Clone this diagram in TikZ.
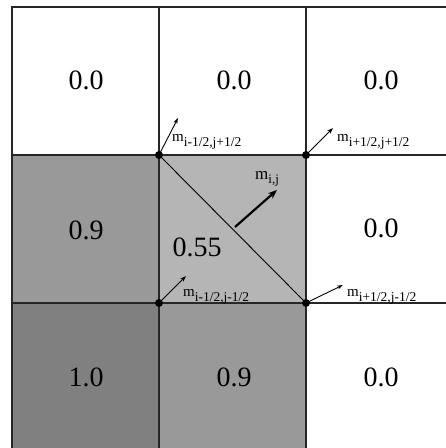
\documentclass[tikz,border=0pt]{standalone}
\usepackage{fontspec}
\setmainfont{Liberation Serif}
\usetikzlibrary{arrows.meta}
\definecolor{gA}{HTML}{999999}
\definecolor{gB}{HTML}{808080}
\definecolor{gC}{HTML}{B5B5B5}
\newcommand{\mlab}[3]{{\fontsize{#1}{#1}\selectfont m}\raisebox{-0.38\dimexpr #2pt\relax}{\fontsize{#2}{#2}\selectfont #3}}
\tikzset{
  gridline/.style={line width=1.1pt, draw=black!85},
  val/.style={font=\fontsize{28}{28}\selectfont, inner sep=0pt, anchor=center},
  vdot/.style={circle, fill=black, inner sep=0pt, minimum size=8pt},
  flux/.style={line width=0.9pt, -{Stealth[length=6pt,width=4pt]}},
  bigflux/.style={line width=2.2pt, -{Stealth[length=9pt,width=7pt]}},
  lab/.style={inner sep=0pt, anchor=base west}
}
\begin{document}
\begin{tikzpicture}[x=1pt,y=-1pt]
\useasboundingbox (0,0) rectangle (446,448);
\fill[white] (0,0) rectangle (446,448);
% fills
\fill[gA] (12,155) rectangle (159,303);
\fill[gC] (159,155) rectangle (306,303);
\fill[gB] (12,303) rectangle (159,448);
\fill[gA] (159,303) rectangle (306,448);
% grid lines
\draw[gridline] (446,7) -- (12,7) -- (12,448);
\draw[gridline] (159,7) -- (159,448);
\draw[gridline] (306,7) -- (306,448);
\draw[gridline] (12,155) -- (446,155);
\draw[gridline] (12,303) -- (446,303);
% corner nodes
\node[vdot] (c1) at (159,155) {};
\node[vdot] (c2) at (306,155) {};
\node[vdot] (c3) at (159,303) {};
\node[vdot] (c4) at (306,303) {};
% diagonal interface
\draw[line width=0.9pt] (c1.center) -- (c4.center);
% values
\node[val] (v11) at (86,80) {0.0};
\node[val] (v12) at (234,80) {0.0};
\node[val] (v13) at (381,80) {0.0};
\node[val] (v21) at (86,230) {0.9};
\node[val] (v22) at (197,247) {0.55};
\node[val] (v23) at (381,228) {0.0};
\node[val] (v31) at (86,377) {1.0};
\node[val] (v32) at (234,377) {0.9};
\node[val] (v33) at (381,377) {0.0};
% flux arrows
\coordinate (t1) at (178,118);
\coordinate (t2) at (333,128);
\coordinate (t3) at (186,276);
\coordinate (t4) at (343,285);
\coordinate (mid) at (235,227);
\coordinate (tc) at (277,190);
\draw[flux] (c1.center) -- (t1);
\draw[flux] (c2.center) -- (t2);
\draw[flux] (c3.center) -- (t3);
\draw[flux] (c4.center) -- (t4);
\draw[bigflux] (mid) -- (tc);
% labels
\node[lab] (l1) at (172,141) {\mlab{15}{13.5}{i-1/2,j+1/2}};
\node[lab] (l2) at (337,141) {\mlab{15}{13.5}{i+1/2,j+1/2}};
\node[lab] (l3) at (183,296) {\mlab{15}{13.5}{i-1/2,j-1/2}};
\node[lab] (l4) at (347,296) {\mlab{15}{13.5}{i+1/2,j-1/2}};
\node[lab] (lc) at (255,179) {\mlab{17}{13}{i,j}};
\end{tikzpicture}
\end{document}
